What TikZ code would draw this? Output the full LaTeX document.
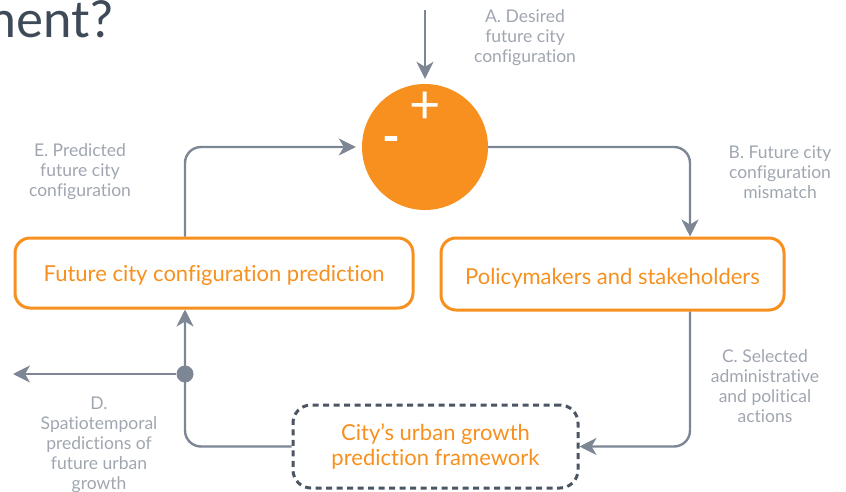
\documentclass[tikz,border=0pt]{standalone}
\usepackage{fontspec}
\setmainfont{Lato}[Ligatures={NoCommon,NoRare,NoContextual}]
\usetikzlibrary{arrows.meta}
\definecolor{orng}{HTML}{F7901E}
\definecolor{linegray}{HTML}{7D8694}
\definecolor{labelgray}{HTML}{A0A6B0}
\definecolor{dashgray}{HTML}{4B5563}
\definecolor{titlegray}{HTML}{3E4A58}
\begin{document}
\begin{tikzpicture}[x=1pt,y=-1pt,
  conn/.style={draw=linegray, line width=2.4pt, rounded corners=16pt,
    -{Stealth[length=17pt,width=17pt,inset=5pt]}},
  procbox/.style={draw=orng, line width=3pt, rounded corners=15pt, text=orng,
    font=\fontsize{22}{25}\selectfont, align=center, inner sep=0pt},
  note/.style={text=labelgray, font=\fontsize{17.5}{20}\selectfont, align=center},
  sign/.style={text=white, inner sep=0pt}]
\useasboundingbox (0,0) rectangle (846,492);

% heading fragment
\node[anchor=base east, text=titlegray, font=\fontsize{51}{56}\selectfont, inner sep=0pt]
  (title) at (113,38) {ment?};

% comparator
\node[circle, fill=orng, minimum size=126pt, inner sep=0pt] (sum) at (425,147) {};
\node[sign, font=\fontsize{54}{54}\selectfont] (plus) at (425,108) {+};
\node[sign, font=\fontsize{48}{48}\selectfont\bfseries] (minus) at (391,145) {-};

% process boxes
\node[procbox, minimum width=398pt, minimum height=70pt] (pred) at (214,273)
  {\raisebox{-2pt}[\height][\depth]{Future city configuration prediction}};
\node[procbox, minimum width=343pt, minimum height=72pt] (policy) at (612.5,274)
  {\raisebox{-4pt}[\height][\depth]{Policymakers and stakeholders}};
\node[draw=dashgray, line width=3pt, dash pattern=on 6pt off 4.5pt, rounded corners=18pt,
  text=orng, font=\fontsize{22}{25}\selectfont, align=center, inner sep=0pt,
  minimum width=285pt, minimum height=83pt] (frame) at (435.5,446.5)
  {City’s urban growth\\prediction framework};

% labels
\node[note] (la) at (525,38) {A. Desired\\future city\\configuration};
\node[note] (lb) at (780,172) {B. Future city\\configuration\\mismatch};
\node[note] (lc) at (765,386) {C. Selected\\administrative\\and political\\actions};
\node[note] (ld) at (99,445) {D.\\Spatiotemporal\\predictions of\\future urban\\growth};
\node[note] (le) at (80,172) {E. Predicted\\future city\\configuration};

% connectors
\coordinate (topin) at (425,10);
\coordinate (out) at (13,374);
\draw[conn, shorten >=5pt] (topin) -- (sum.north);
\draw[conn, shorten >=6pt] ([xshift=-29pt]pred.north) |- (sum.west);
\draw[conn] (sum.east) -| ([xshift=77.5pt]policy.north);
\draw[conn] ([xshift=77.5pt]policy.south) |- (frame.east);
\draw[conn] (frame.west) -| ([xshift=-29pt]pred.south);
\node[circle, fill=linegray, minimum size=17pt, inner sep=0pt] (dot) at (185,374) {};
\draw[conn] (dot) -- (out);
\end{tikzpicture}
\end{document}
